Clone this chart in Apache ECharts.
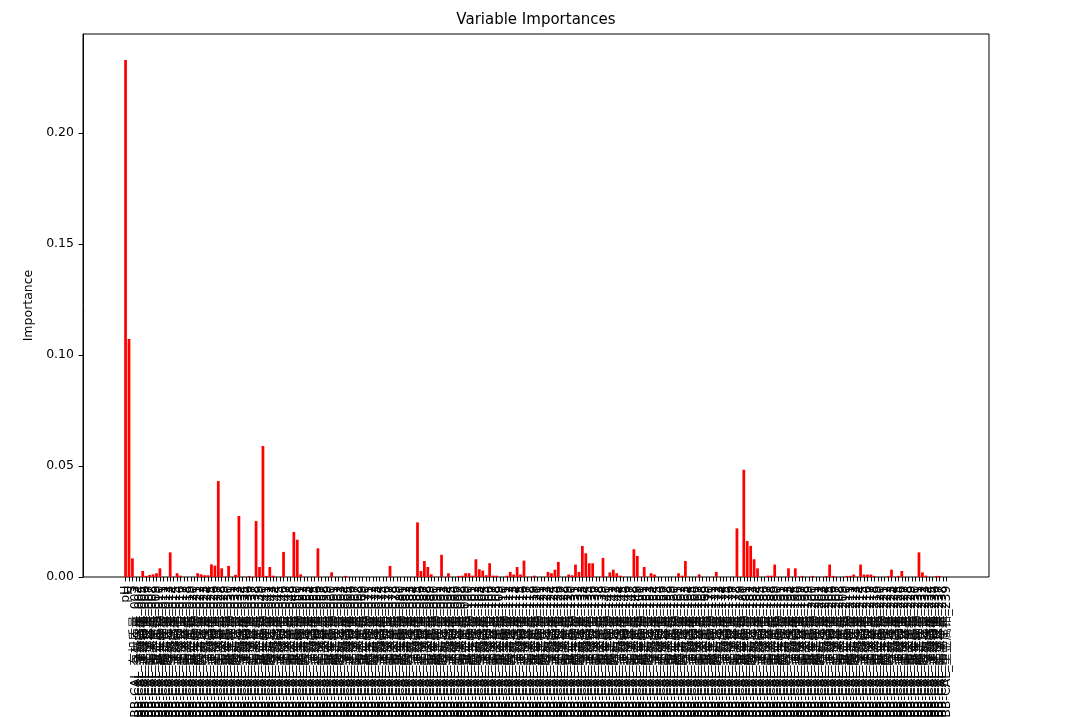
<!DOCTYPE html>
<html><head><meta charset="utf-8">
<script src="https://cdn.jsdelivr.net/npm/echarts/dist/echarts.min.js"></script>
<style>html,body{margin:0;padding:0;background:#fff}#c{width:1090px;height:717px}</style>
</head><body><div id="c"></div>
<script>
const categories = ["pH","H","S",
"S-Z0BB-CAL_有机质量_003","S-Z0BB-CAL_全氮含量_004","S-Z0BB-CAL_速效磷值_005","S-Z0BB-CAL_速效钾值_006","S-Z0BB-CAL_土壤容重_007","S-Z0BB-CAL_阳离子量_008","S-Z0BB-CAL_重金属铅_009","S-Z0BB-CAL_重金属镉_010","S-Z0BB-CAL_微生物量_011","S-Z0BB-CAL_酶活性值_012",
"S-Z0BB-CAL_有机质量_013","S-Z0BB-CAL_全氮含量_014","S-Z0BB-CAL_速效磷值_015","S-Z0BB-CAL_速效钾值_016","S-Z0BB-CAL_土壤容重_017","S-Z0BB-CAL_阳离子量_018","S-Z0BB-CAL_重金属铅_019","S-Z0BB-CAL_重金属镉_020","S-Z0BB-CAL_微生物量_021","S-Z0BB-CAL_酶活性值_022",
"S-Z0BB-CAL_有机质量_023","S-Z0BB-CAL_全氮含量_024","S-Z0BB-CAL_速效磷值_025","S-Z0BB-CAL_速效钾值_026","S-Z0BB-CAL_土壤容重_027","S-Z0BB-CAL_阳离子量_028","S-Z0BB-CAL_重金属铅_029","S-Z0BB-CAL_重金属镉_030","S-Z0BB-CAL_微生物量_031","S-Z0BB-CAL_酶活性值_032",
"S-Z0BB-CAL_有机质量_033","S-Z0BB-CAL_全氮含量_034","S-Z0BB-CAL_速效磷值_035","S-Z0BB-CAL_速效钾值_036","S-Z0BB-CAL_土壤容重_037","S-Z0BB-CAL_阳离子量_038","S-Z0BB-CAL_重金属铅_039","S-Z0BB-CAL_重金属镉_040","S-Z0BB-CAL_微生物量_041","S-Z0BB-CAL_酶活性值_042",
"S-Z0BB-CAL_有机质量_043","S-Z0BB-CAL_全氮含量_044","S-Z0BB-CAL_速效磷值_045","S-Z0BB-CAL_速效钾值_046","S-Z0BB-CAL_土壤容重_047","S-Z0BB-CAL_阳离子量_048","S-Z0BB-CAL_重金属铅_049","S-Z0BB-CAL_重金属镉_050","S-Z0BB-CAL_微生物量_051","S-Z0BB-CAL_酶活性值_052",
"S-Z0BB-CAL_有机质量_053","S-Z0BB-CAL_全氮含量_054","S-Z0BB-CAL_速效磷值_055","S-Z0BB-CAL_速效钾值_056","S-Z0BB-CAL_土壤容重_057","S-Z0BB-CAL_阳离子量_058","S-Z0BB-CAL_重金属铅_059","S-Z0BB-CAL_重金属镉_060","S-Z0BB-CAL_微生物量_061","S-Z0BB-CAL_酶活性值_062",
"S-Z0BB-CAL_有机质量_063","S-Z0BB-CAL_全氮含量_064","S-Z0BB-CAL_速效磷值_065","S-Z0BB-CAL_速效钾值_066","S-Z0BB-CAL_土壤容重_067","S-Z0BB-CAL_阳离子量_068","S-Z0BB-CAL_重金属铅_069","S-Z0BB-CAL_重金属镉_070","S-Z0BB-CAL_微生物量_071","S-Z0BB-CAL_酶活性值_072",
"S-Z0BB-CAL_有机质量_073","S-Z0BB-CAL_全氮含量_074","S-Z0BB-CAL_速效磷值_075","S-Z0BB-CAL_速效钾值_076","S-Z0BB-CAL_土壤容重_077","S-Z0BB-CAL_阳离子量_078","S-Z0BB-CAL_重金属铅_079","S-Z0BB-CAL_重金属镉_080","S-Z0BB-CAL_微生物量_081","S-Z0BB-CAL_酶活性值_082",
"S-Z0BB-CAL_有机质量_083","S-Z0BB-CAL_全氮含量_084","S-Z0BB-CAL_速效磷值_085","S-Z0BB-CAL_速效钾值_086","S-Z0BB-CAL_土壤容重_087","S-Z0BB-CAL_阳离子量_088","S-Z0BB-CAL_重金属铅_089","S-Z0BB-CAL_重金属镉_090","S-Z0BB-CAL_微生物量_091","S-Z0BB-CAL_酶活性值_092",
"S-Z0BB-CAL_有机质量_093","S-Z0BB-CAL_全氮含量_094","S-Z0BB-CAL_速效磷值_095","S-Z0BB-CAL_速效钾值_096","S-Z0BB-CAL_土壤容重_097","S-Z0BB-CAL_阳离子量_098","S-Z0BB-CAL_重金属铅_099","S-Z0BB-CAL_重金属镉_100","S-Z0BB-CAL_微生物量_101","S-Z0BB-CAL_酶活性值_102",
"S-Z0BB-CAL_有机质量_103","S-Z0BB-CAL_全氮含量_104","S-Z0BB-CAL_速效磷值_105","S-Z0BB-CAL_速效钾值_106","S-Z0BB-CAL_土壤容重_107","S-Z0BB-CAL_阳离子量_108","S-Z0BB-CAL_重金属铅_109","S-Z0BB-CAL_重金属镉_110","S-Z0BB-CAL_微生物量_111","S-Z0BB-CAL_酶活性值_112",
"S-Z0BB-CAL_有机质量_113","S-Z0BB-CAL_全氮含量_114","S-Z0BB-CAL_速效磷值_115","S-Z0BB-CAL_速效钾值_116","S-Z0BB-CAL_土壤容重_117","S-Z0BB-CAL_阳离子量_118","S-Z0BB-CAL_重金属铅_119","S-Z0BB-CAL_重金属镉_120","S-Z0BB-CAL_微生物量_121","S-Z0BB-CAL_酶活性值_122",
"S-Z0BB-CAL_有机质量_123","S-Z0BB-CAL_全氮含量_124","S-Z0BB-CAL_速效磷值_125","S-Z0BB-CAL_速效钾值_126","S-Z0BB-CAL_土壤容重_127","S-Z0BB-CAL_阳离子量_128","S-Z0BB-CAL_重金属铅_129","S-Z0BB-CAL_重金属镉_130","S-Z0BB-CAL_微生物量_131","S-Z0BB-CAL_酶活性值_132",
"S-Z0BB-CAL_有机质量_133","S-Z0BB-CAL_全氮含量_134","S-Z0BB-CAL_速效磷值_135","S-Z0BB-CAL_速效钾值_136","S-Z0BB-CAL_土壤容重_137","S-Z0BB-CAL_阳离子量_138","S-Z0BB-CAL_重金属铅_139","S-Z0BB-CAL_重金属镉_140","S-Z0BB-CAL_微生物量_141","S-Z0BB-CAL_酶活性值_142",
"S-Z0BB-CAL_有机质量_143","S-Z0BB-CAL_全氮含量_144","S-Z0BB-CAL_速效磷值_145","S-Z0BB-CAL_速效钾值_146","S-Z0BB-CAL_土壤容重_147","S-Z0BB-CAL_阳离子量_148","S-Z0BB-CAL_重金属铅_149","S-Z0BB-CAL_重金属镉_150","S-Z0BB-CAL_微生物量_151","S-Z0BB-CAL_酶活性值_152",
"S-Z0BB-CAL_有机质量_153","S-Z0BB-CAL_全氮含量_154","S-Z0BB-CAL_速效磷值_155","S-Z0BB-CAL_速效钾值_156","S-Z0BB-CAL_土壤容重_157","S-Z0BB-CAL_阳离子量_158","S-Z0BB-CAL_重金属铅_159","S-Z0BB-CAL_重金属镉_160","S-Z0BB-CAL_微生物量_161","S-Z0BB-CAL_酶活性值_162",
"S-Z0BB-CAL_有机质量_163","S-Z0BB-CAL_全氮含量_164","S-Z0BB-CAL_速效磷值_165","S-Z0BB-CAL_速效钾值_166","S-Z0BB-CAL_土壤容重_167","S-Z0BB-CAL_阳离子量_168","S-Z0BB-CAL_重金属铅_169","S-Z0BB-CAL_重金属镉_170","S-Z0BB-CAL_微生物量_171","S-Z0BB-CAL_酶活性值_172",
"S-Z0BB-CAL_有机质量_173","S-Z0BB-CAL_全氮含量_174","S-Z0BB-CAL_速效磷值_175","S-Z0BB-CAL_速效钾值_176","S-Z0BB-CAL_土壤容重_177","S-Z0BB-CAL_阳离子量_178","S-Z0BB-CAL_重金属铅_179","S-Z0BB-CAL_重金属镉_180","S-Z0BB-CAL_微生物量_181","S-Z0BB-CAL_酶活性值_182",
"S-Z0BB-CAL_有机质量_183","S-Z0BB-CAL_全氮含量_184","S-Z0BB-CAL_速效磷值_185","S-Z0BB-CAL_速效钾值_186","S-Z0BB-CAL_土壤容重_187","S-Z0BB-CAL_阳离子量_188","S-Z0BB-CAL_重金属铅_189","S-Z0BB-CAL_重金属镉_190","S-Z0BB-CAL_微生物量_191","S-Z0BB-CAL_酶活性值_192",
"S-Z0BB-CAL_有机质量_193","S-Z0BB-CAL_全氮含量_194","S-Z0BB-CAL_速效磷值_195","S-Z0BB-CAL_速效钾值_196","S-Z0BB-CAL_土壤容重_197","S-Z0BB-CAL_阳离子量_198","S-Z0BB-CAL_重金属铅_199","S-Z0BB-CAL_重金属镉_200","S-Z0BB-CAL_微生物量_201","S-Z0BB-CAL_酶活性值_202",
"S-Z0BB-CAL_有机质量_203","S-Z0BB-CAL_全氮含量_204","S-Z0BB-CAL_速效磷值_205","S-Z0BB-CAL_速效钾值_206","S-Z0BB-CAL_土壤容重_207","S-Z0BB-CAL_阳离子量_208","S-Z0BB-CAL_重金属铅_209","S-Z0BB-CAL_重金属镉_210","S-Z0BB-CAL_微生物量_211","S-Z0BB-CAL_酶活性值_212",
"S-Z0BB-CAL_有机质量_213","S-Z0BB-CAL_全氮含量_214","S-Z0BB-CAL_速效磷值_215","S-Z0BB-CAL_速效钾值_216","S-Z0BB-CAL_土壤容重_217","S-Z0BB-CAL_阳离子量_218","S-Z0BB-CAL_重金属铅_219","S-Z0BB-CAL_重金属镉_220","S-Z0BB-CAL_微生物量_221","S-Z0BB-CAL_酶活性值_222",
"S-Z0BB-CAL_有机质量_223","S-Z0BB-CAL_全氮含量_224","S-Z0BB-CAL_速效磷值_225","S-Z0BB-CAL_速效钾值_226","S-Z0BB-CAL_土壤容重_227","S-Z0BB-CAL_阳离子量_228","S-Z0BB-CAL_重金属铅_229","S-Z0BB-CAL_重金属镉_230","S-Z0BB-CAL_微生物量_231","S-Z0BB-CAL_酶活性值_232",
"S-Z0BB-CAL_有机质量_233","S-Z0BB-CAL_全氮含量_234","S-Z0BB-CAL_速效磷值_235","S-Z0BB-CAL_速效钾值_236","S-Z0BB-CAL_土壤容重_237","S-Z0BB-CAL_阳离子量_238","S-Z0BB-CAL_重金属铅_239"];

const importances = [
0.2329,0.1072,0.0084,0,0,0.0027,0.0005,0.0009,0.0012,0.0017,
0.0039,0,0,0.0111,0,0.0017,0.0006,0,0,0,
0,0.0017,0.0012,0.0008,0.0008,0.0057,0.0051,0.0432,0.0039,0,
0.0050,0,0.0010,0.0275,0,0,0.0005,0,0.0252,0.0045,
0.0590,0.0005,0.0045,0.0006,0,0,0.0113,0,0,0.0203,
0.0168,0.0012,0,0,0,0,0.0129,0,0,0,
0.0021,0,0,0,0.0005,0,0,0,0,0,
0,0,0,0,0,0,0,0.0050,0,0,
0,0,0,0,0,0.0246,0.0027,0.0072,0.0045,0.0012,
0,0,0.0100,0,0.0017,0,0,0.0005,0.0006,0.0017,
0.0017,0.0006,0.0080,0.0035,0.0029,0.0008,0.0062,0.0006,0.0006,0,
0,0.0006,0.0023,0.0011,0.0045,0.0011,0.0074,0,0,0.0006,
0,0,0,0.0023,0.0017,0.0033,0.0068,0,0,0.0011,
0.0008,0.0056,0.0023,0.0140,0.0107,0.0062,0.0062,0,0,0.0086,
0,0.0021,0.0033,0.0017,0.0006,0,0,0,0.0125,0.0095,
0,0.0045,0,0.0017,0.0011,0,0,0,0,0,
0,0.0017,0.0006,0.0072,0,0,0,0.0012,0,0,
0,0,0.0023,0,0,0,0,0,0.0219,0,
0.0483,0.0162,0.0140,0.0080,0.0039,0,0,0.0006,0.0006,0.0056,
0,0,0,0.0039,0,0.0039,0,0.0005,0,0,
0.0005,0,0,0,0.0005,0.0056,0.0005,0,0,0,
0.0005,0.0005,0.0011,0,0.0056,0.0011,0.0011,0.0011,0.0005,0,
0,0,0.0005,0.0033,0,0.0005,0.0027,0,0,0,
0,0.0111,0.0021,0.0006,0,0,0.0005,0.0005,0,0];

const yTicks = [0, 0.05, 0.10, 0.15, 0.20];
const yMax = 0.2446;
const titleText = 'Variable Importances';
const yName = 'Importance';

// layout (matplotlib-like axes box and 5% data margins)
const W = 1090, H = 717;
const plotLeft = 83, plotRight = 101, plotTop = 34, plotBottom = 140;
const n = categories.length;
const plotW = W - plotLeft - plotRight;
const pxPer = plotW / ((n - 0.2) * 1.1);
const innerLeft = plotLeft + (0.05 * (n - 0.2) - 0.1) * pxPer;
const innerWidth = n * pxPer;

const chart = echarts.init(document.getElementById('c'), null, {renderer: 'canvas'});
const FONT = 'DejaVu Sans, "Noto Sans CJK SC", sans-serif';
const FS = 12.5;
chart.setOption({
  animation: false,
  backgroundColor: '#fff',
  graphic: [{
    type: 'text', x: plotLeft + plotW / 2, y: 20,
    style: {text: titleText, textAlign: 'center', textVerticalAlign: 'middle',
      fontSize: 15, fontFamily: FONT, fill: '#000'}
  }],
  grid: [
    {left: plotLeft, right: plotRight, top: plotTop, bottom: plotBottom, show: true,
     borderColor: '#000', borderWidth: 1, backgroundColor: 'transparent', z: 0,
     containLabel: false, outerBoundsMode: 'none'},
    {left: innerLeft, width: innerWidth, top: plotTop, bottom: plotBottom,
     containLabel: false, outerBoundsMode: 'none'}
  ],
  xAxis: [
    {gridIndex: 0, type: 'value', min: 0, max: 1, show: false},
    {gridIndex: 1, type: 'category', data: categories,
     axisLine: {show: false},
     axisTick: {show: true, alignWithLabel: true, interval: 0, length: 4.4, lineStyle: {color: '#000', width: 1}},
     axisLabel: {interval: 0, rotate: 90, fontSize: FS, color: '#000', fontFamily: FONT, margin: 8.5}}
  ],
  yAxis: [
    {gridIndex: 0, type: 'value', min: 0, max: yMax, interval: 0.05,
     axisLine: {show: true, lineStyle: {color: '#000', width: 1}},
     axisTick: {show: true, length: 4.4, lineStyle: {color: '#000'}, customValues: yTicks},
     splitLine: {show: false},
     axisLabel: {customValues: yTicks, formatter: v => v.toFixed(2),
       fontSize: FS, color: '#000', fontFamily: FONT, margin: 9},
     name: yName, nameLocation: 'middle', nameGap: 39,
     nameTextStyle: {fontSize: FS, color: '#000', fontFamily: FONT}},
    {gridIndex: 1, type: 'value', min: 0, max: yMax, show: false}
  ],
  series: [{
    type: 'bar', xAxisIndex: 1, yAxisIndex: 1, data: importances,
    barWidth: '80%', itemStyle: {color: '#ff0000'}
  }]
});
</script>
</body></html>
